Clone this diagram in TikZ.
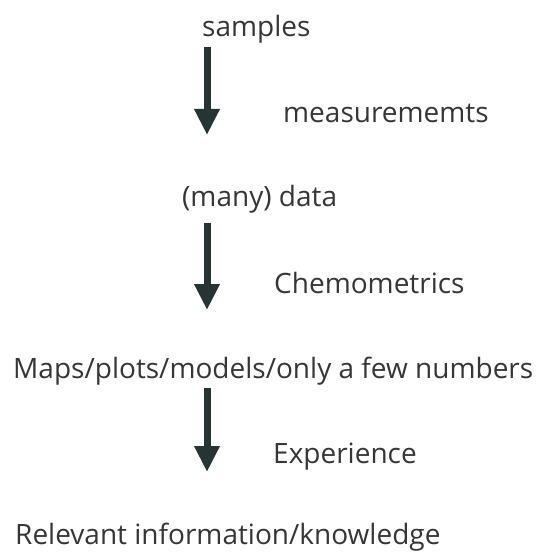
\documentclass[tikz,border=0pt]{standalone}
\usepackage{fontspec}
\setmainfont{Open Sans}
\usetikzlibrary{arrows.meta}
\definecolor{txt}{HTML}{363636}
\definecolor{arr}{HTML}{263434}
\begin{document}
\begin{tikzpicture}[x=1pt,y=-1pt,
  lbl/.style={anchor=base west,inner sep=0pt,text=txt,font=\fontsize{28}{32}\selectfont},
  flow/.style={draw=arr,line width=7pt,-{Triangle[width=24pt,length=26pt]}}]
\useasboundingbox (0,0) rectangle (541,553);
\node[lbl] (samples) at (202,37) {samples};
\node[lbl] (meas) at (283,123) {measurememts};
\node[lbl] (data) at (182,206) {(many) data};
\node[lbl] (chemo) at (274,293) {Chemometrics};
\node[lbl] (maps) at (13,378) {Maps/plots/models/only a few numbers};
\node[lbl] (exp) at (273,463) {Experience};
\node[lbl] (rel) at (15,544) {Relevant information/knowledge};
\coordinate (a1s) at (207,47); \coordinate (a1e) at (207,135);
\coordinate (a2s) at (207,223); \coordinate (a2e) at (207,310);
\coordinate (a3s) at (207,388); \coordinate (a3e) at (207,472);
\draw[flow] (a1s) -- (a1e);
\draw[flow] (a2s) -- (a2e);
\draw[flow] (a3s) -- (a3e);
\end{tikzpicture}
\end{document}
